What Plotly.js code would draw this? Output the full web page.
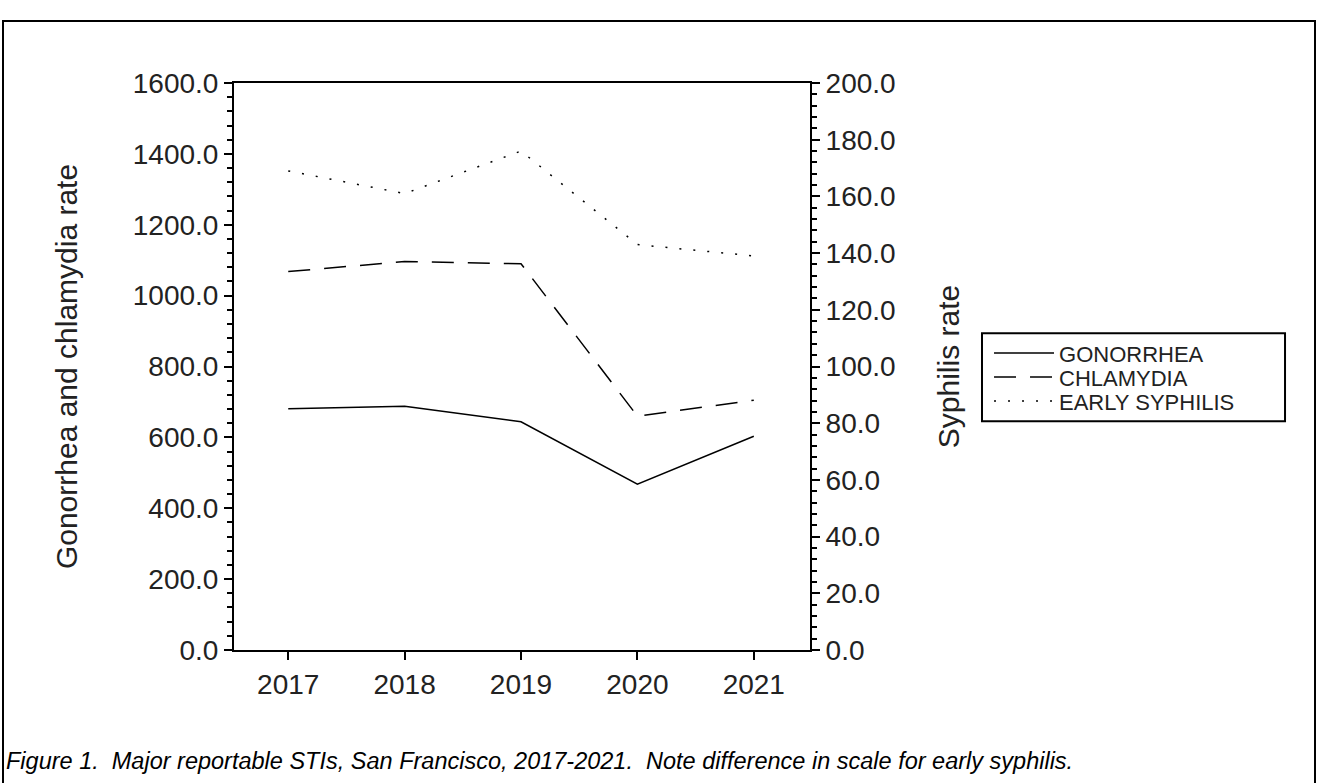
<!DOCTYPE html>
<html>
<head>
<meta charset="utf-8">
<script src="https://cdn.plot.ly/plotly-3.0.1.min.js"></script>
<style>
html,body{margin:0;padding:0;background:#fff;}
#frame{position:absolute;left:2px;top:20px;width:1314px;height:780px;border-left:2px solid #000;border-top:2px solid #000;border-right:2px solid #000;box-sizing:border-box;pointer-events:none;}
#chart{width:1318px;height:783px;}
</style>
</head>
<body>
<div id="chart"></div>
<div id="frame"></div>
<script>
const years = [2017, 2018, 2019, 2020, 2021];
const gonorrhea = [681, 688, 644, 468, 603];
const chlamydia = [1068, 1096, 1090, 660, 705];
const earlySyphilis = [169, 161, 176, 143, 139];
const seriesNames = ['GONORRHEA', 'CHLAMYDIA', 'EARLY SYPHILIS'];
const caption = 'Figure 1.  Major reportable STIs, San Francisco, 2017-2021.  Note difference in scale for early syphilis.';

const font = 'Liberation Sans, Arial, sans-serif';
const txt = '#222';
const traces = [
  {x: years, y: gonorrhea, name: seriesNames[0], type: 'scatter', mode: 'lines',
   line: {color: '#000', width: 1.5, dash: 'solid'}, yaxis: 'y', legend: 'legend'},
  {x: years, y: chlamydia, name: seriesNames[1], type: 'scatter', mode: 'lines',
   line: {color: '#000', width: 1.5, dash: '22px,14px'}, yaxis: 'y', legend: 'legend2'},
  {x: years, y: earlySyphilis, name: seriesNames[2], type: 'scatter', mode: 'lines',
   line: {color: '#000', width: 1.5, dash: '2px,12px'}, yaxis: 'y2', legend: 'legend3'}
];

function leg(y) {
  return {x: 1.3108, y: y, xanchor: 'left', yanchor: 'middle', borderwidth: 0,
    bgcolor: 'rgba(0,0,0,0)', font: {family: font, size: 22, color: txt}, itemwidth: 60};
}

const tickFont = {size: 28, family: font, color: txt};
const layout = {
  width: 1318, height: 783,
  margin: {l: 234, r: 508, t: 83, b: 133},
  paper_bgcolor: '#fff', plot_bgcolor: '#fff',
  font: {family: font, color: txt, size: 24},
  showlegend: true,
  legend: leg(0.5233),
  legend2: leg(0.4811),
  legend3: leg(0.4388),
  shapes: [{type: 'rect', xref: 'paper', yref: 'paper', x0: 1.2986, x1: 1.8247, y0: 0.4035, y1: 0.5586,
    line: {color: '#000', width: 2}, fillcolor: 'rgba(0,0,0,0)'}],
  xaxis: {
    range: [2016.534, 2021.483], tickmode: 'array', tickvals: years,
    ticktext: years.map(String), showgrid: false, zeroline: false,
    showline: true, linecolor: '#000', linewidth: 2, mirror: true,
    ticks: 'outside', ticklen: 8, tickwidth: 2, tickcolor: '#000',
    tickfont: tickFont
  },
  yaxis: {
    range: [0, 1600], dtick: 200, tickformat: '.1f', showgrid: false, zeroline: false,
    showline: true, linecolor: '#000', linewidth: 2,
    ticks: 'outside', ticklen: 8, tickwidth: 2, tickcolor: '#000',
    minor: {dtick: 40, ticks: 'outside', ticklen: 5, tickwidth: 2, tickcolor: '#000', showgrid: false},
    tickfont: tickFont,
    title: {text: 'Gonorrhea and chlamydia rate', font: {size: 30, family: font, color: txt}, standoff: 46}
  },
  yaxis2: {
    range: [0, 200], dtick: 20, tickformat: '.1f', overlaying: 'y', side: 'right',
    showgrid: false, zeroline: false, showline: true, linecolor: '#000', linewidth: 2,
    ticks: 'outside', ticklen: 8, tickwidth: 2, tickcolor: '#000',
    minor: {dtick: 4, ticks: 'outside', ticklen: 5, tickwidth: 2, tickcolor: '#000', showgrid: false},
    tickfont: tickFont,
    title: {text: 'Syphilis rate', font: {size: 30, family: font, color: txt}, standoff: 43}
  },
  annotations: [{
    text: caption, xref: 'paper', yref: 'paper', x: -0.4, y: -0.195,
    xanchor: 'left', yanchor: 'middle', showarrow: false,
    font: {family: font, size: 23.5, color: '#000', style: 'italic'}
  }]
};

Plotly.newPlot('chart', traces, layout, {displayModeBar: false, staticPlot: true});
</script>
</body>
</html>
